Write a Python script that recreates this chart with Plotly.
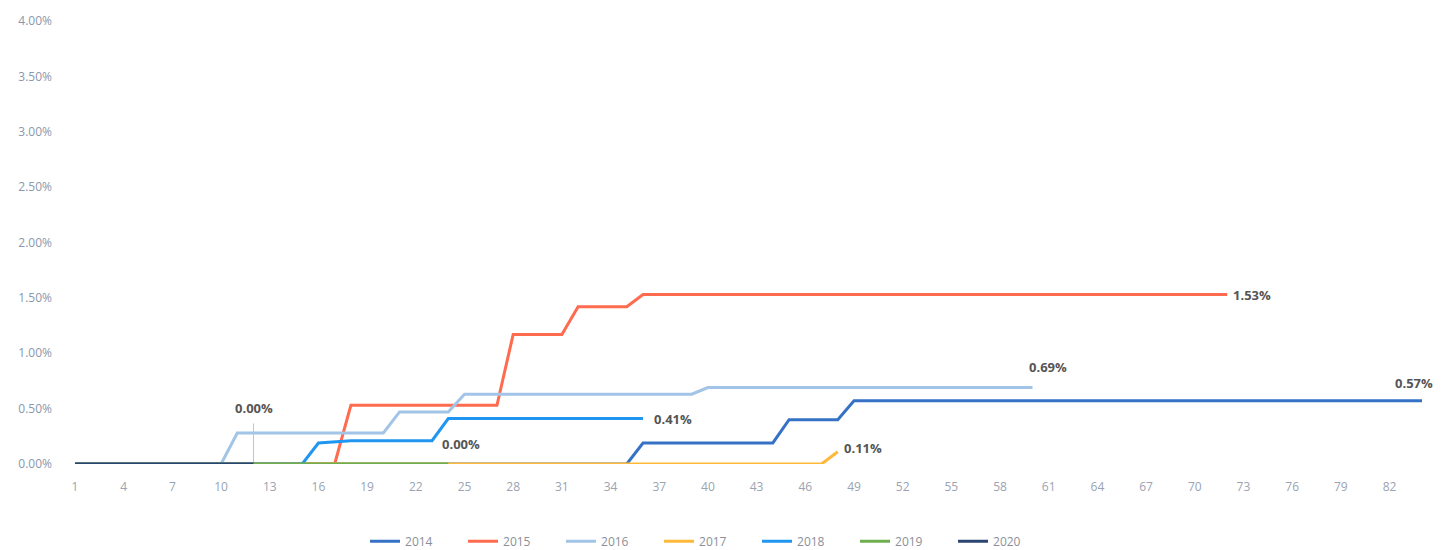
import plotly.graph_objects as go

# Day index on the x axis (1..84)
days = list(range(1, 85))
tick_days = list(range(1, 84, 3))

years = ["2014", "2015", "2016", "2017", "2018", "2019", "2020"]
colors = ["#3572c6", "#ff6b4f", "#a2c4e6", "#ffb93a", "#2196f0", "#6fae4c", "#2c4570"]


def series(segments, last_day):
    """Expand (first_day, value) steps into one value per day, None after last_day."""
    out = []
    for d in days:
        if d > last_day:
            out.append(None)
            continue
        v = 0.0
        for start, val in segments:
            if d >= start:
                v = val
        out.append(v)
    return out


# Cumulative rate (%) per year
rate_2014 = series([(1, 0.0), (36, 0.19), (45, 0.40), (49, 0.57)], 84)
rate_2015 = series([(1, 0.0), (18, 0.53), (28, 1.17), (32, 1.42), (36, 1.53)], 72)
rate_2016 = series([(1, 0.0), (11, 0.28), (21, 0.47), (25, 0.63), (40, 0.69)], 60)
rate_2017 = series([(1, 0.0), (48, 0.11)], 48)
rate_2018 = series([(1, 0.0), (16, 0.19), (17, 0.20), (18, 0.21), (24, 0.41)], 36)
rate_2019 = series([(1, 0.0)], 24)
rate_2020 = series([(1, 0.0)], 12)

all_rates = [rate_2014, rate_2015, rate_2016, rate_2017, rate_2018, rate_2019, rate_2020]

fig = go.Figure()
for name, color, vals in zip(years, colors, all_rates):
    fig.add_trace(go.Scatter(
        x=days, y=vals, name=name, mode="lines",
        line=dict(color=color, width=3),
        connectgaps=False,
    ))

# End-of-series value labels: (series index, xshift, yshift, xanchor)
label_font = dict(family="Open Sans, Arial, sans-serif", size=13, color="#555555")
end_labels = [
    (0, -8, 18, "center"),
    (1, 4, 0, "left"),
    (2, 15, 21, "center"),
    (3, 4, 4, "left"),
    (4, 9, 0, "left"),
    (5, 13, 20, "center"),
]
for idx, xs, ys, xa in end_labels:
    vals = all_rates[idx]
    last = max(i for i, v in enumerate(vals) if v is not None)
    fig.add_annotation(
        x=days[last], y=vals[last], text=f"<b>{vals[last]:.2f}%</b>",
        showarrow=False, xanchor=xa, yanchor="middle",
        xshift=xs, yshift=ys, font=label_font,
    )

# 2020 label with a thin leader line
last_2020 = max(i for i, v in enumerate(rate_2020) if v is not None)
fig.add_annotation(
    x=days[last_2020], y=rate_2020[last_2020],
    text=f"<b>{rate_2020[last_2020]:.2f}%</b>",
    showarrow=True, arrowhead=0, arrowwidth=1, arrowcolor="#b8c6dc",
    ax=0, ay=-56, standoff=2, borderpad=6, font=label_font,
)

fig.update_layout(
    width=1442, height=550,
    margin=dict(l=75, r=20, t=19, b=86),
    paper_bgcolor="white", plot_bgcolor="white",
    font=dict(family="Open Sans, Arial, sans-serif", size=12, color="#8a97ad"),
    showlegend=True,
    legend=dict(
        orientation="h", xref="container", x=0.491, xanchor="center",
        yref="container", y=0.016, yanchor="middle",
        font=dict(size=12, color="#8a8f99"),
        entrywidth=53, entrywidthmode="pixels",
    ),
    xaxis=dict(
        range=[1, 84], tickmode="array", tickvals=tick_days,
        ticktext=[str(d) for d in tick_days],
        showgrid=False, zeroline=False, showline=False, ticks="",
        ticklabelstandoff=14,
        tickfont=dict(size=12, color="#9aa3b2"),
    ),
    yaxis=dict(
        range=[0, 4], tickmode="array", tickvals=[0, 0.5, 1, 1.5, 2, 2.5, 3, 3.5, 4],
        ticktext=[f"{v:.2f}%" for v in [0, 0.5, 1, 1.5, 2, 2.5, 3, 3.5, 4]],
        showgrid=False, zeroline=False, showline=False, ticks="",
        ticklabelstandoff=22,
        tickfont=dict(size=12, color="#8a97ad"),
    ),
)

fig.write_html("out.html")
